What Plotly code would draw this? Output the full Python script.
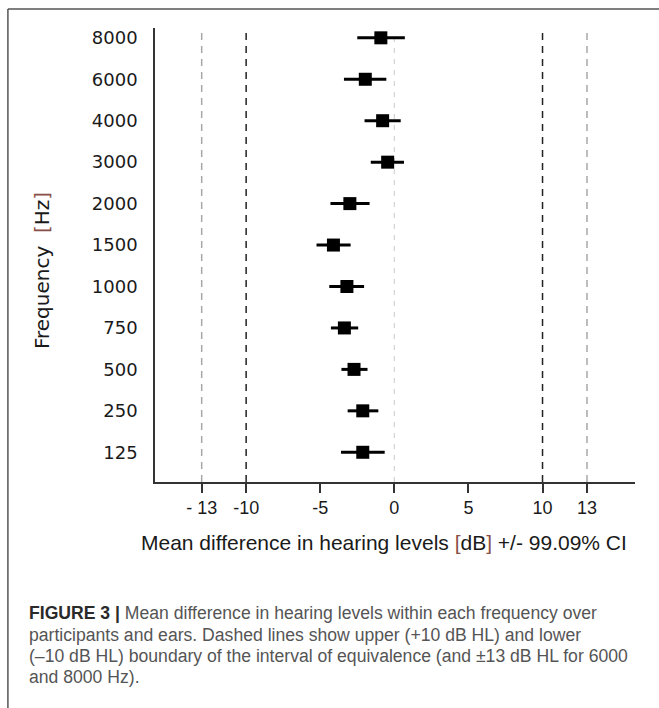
import plotly.graph_objects as go

# ---- data ----
frequencies = ["125", "250", "500", "750", "1000", "1500", "2000", "3000", "4000", "6000", "8000"]
mean_diff = [-2.13, -2.13, -2.72, -3.37, -3.20, -4.11, -3.00, -0.45, -0.79, -1.96, -0.91]
ci_lower = [-3.60, -3.15, -3.57, -4.28, -4.39, -5.25, -4.31, -1.59, -2.01, -3.40, -2.50]
ci_upper = [-0.65, -1.08, -1.81, -2.44, -2.04, -2.95, -1.67, 0.65, 0.43, -0.54, 0.71]

x_tickvals = [-13, -10, -5, 0, 5, 10, 13]
x_ticktext = ["- 13", "-10", "-5", "0", "5", "10", "13"]

equivalence_inner = [-10, 10]
equivalence_outer = [-13, 13]
zero_line = [0]

caption_lines = [
    "<span style='color:#2a2a2a'><b>FIGURE 3 |</b></span> Mean difference in hearing levels within each frequency over",
    "participants and ears. Dashed lines show upper (+10 dB HL) and lower",
    "(\u201310 dB HL) boundary of the interval of equivalence (and \u00b113 dB HL for 6000",
    "and 8000 Hz).",
]

# ---- geometry (pixels) ----
W, H = 659, 708
L, R = 155, 634.7
T, B = 28, 481.7
pw, ph = R - L, B - T

def px(x):
    return (x - L) / pw

def py(y):
    return (B - y) / ph

err_plus = [u - m for u, m in zip(ci_upper, mean_diff)]
err_minus = [m - l for m, l in zip(mean_diff, ci_lower)]

fig = go.Figure()
fig.add_trace(go.Scatter(
    x=mean_diff, y=frequencies, mode="markers",
    marker=dict(symbol="square", size=13, color="#000000", line=dict(width=0)),
    error_x=dict(type="data", symmetric=False, array=err_plus, arrayminus=err_minus,
                 color="#000000", thickness=3, width=0),
    showlegend=False, hoverinfo="skip",
))

shapes = []
line_top = py(31)
for v in equivalence_outer:
    shapes.append(dict(type="line", xref="x", yref="paper", x0=v, x1=v, y0=0, y1=line_top,
                       line=dict(color="#a8a8a8", width=1.5, dash="7px,6px"), layer="below"))
for v in equivalence_inner:
    shapes.append(dict(type="line", xref="x", yref="paper", x0=v, x1=v, y0=0, y1=line_top,
                       line=dict(color="#222222", width=1.5, dash="7px,6px"), layer="below"))
for v in zero_line:
    shapes.append(dict(type="line", xref="x", yref="paper", x0=v, x1=v, y0=0, y1=line_top,
                       line=dict(color="#d4d4d4", width=1.2, dash="5px,6px"), layer="below"))

# outer frame (top and left edges)
frame_col = "#555555"
shapes.append(dict(type="line", xref="paper", yref="paper", x0=px(8), x1=px(660), y0=py(9), y1=py(9),
                   line=dict(color=frame_col, width=1.5)))
shapes.append(dict(type="line", xref="paper", yref="paper", x0=px(8), x1=px(8), y0=py(9), y1=py(710),
                   line=dict(color=frame_col, width=1.5)))

annotations = []
annotations.append(dict(
    text="Frequency  <span style='color:#8a5048'>[</span>Hz<span style='color:#8a5048'>]</span>",
    xref="paper", yref="paper", x=px(42), y=py(270), textangle=-90,
    showarrow=False, xanchor="center", yanchor="middle",
    font=dict(family="DejaVu Sans, Verdana, sans-serif", size=20, color="#1a1a1a"),
))
annotations.append(dict(
    text="Mean difference in hearing levels <span style='color:#8a5048'>[</span>dB<span style='color:#8a5048'>]</span> +/- 99.09% CI",
    xref="paper", yref="paper", x=px(384), y=py(542),
    showarrow=False, xanchor="center", yanchor="middle",
    font=dict(family="Liberation Sans, Arial, sans-serif", size=21, color="#1a1a1a"),
))
cap_y = [613, 635, 656, 677]
for t, yy in zip(caption_lines, cap_y):
    annotations.append(dict(
        text=t, xref="paper", yref="paper", x=px(27), y=py(yy),
        showarrow=False, xanchor="left", yanchor="middle", align="left",
        font=dict(family="Liberation Sans, Arial, sans-serif", size=17.6, color="#555555"),
    ))

fig.update_layout(
    width=W, height=H,
    margin=dict(l=L, r=W - R, t=T, b=H - B, pad=0),
    paper_bgcolor="#ffffff", plot_bgcolor="#ffffff",
    shapes=shapes, annotations=annotations,
    xaxis=dict(
        range=[-16.15, 16.24], tickmode="array", tickvals=x_tickvals, ticktext=x_ticktext,
        showgrid=False, zeroline=False, showline=True, linecolor="#333333", linewidth=1.5,
        ticks="outside", ticklen=9, tickwidth=1.5, tickcolor="#333333",
        tickfont=dict(family="Liberation Sans, Arial, sans-serif", size=18, color="#1a1a1a"),
        fixedrange=True,
    ),
    yaxis=dict(
        type="category", categoryorder="array", categoryarray=frequencies,
        range=[-0.717, 10.237],
        showgrid=False, zeroline=False, showline=True, linecolor="#333333", linewidth=1.5,
        ticks="", ticklabelstandoff=12,
        tickfont=dict(family="DejaVu Sans, Verdana, sans-serif", size=18, color="#1a1a1a"),
        fixedrange=True,
    ),
)

fig.write_html("out.html")
